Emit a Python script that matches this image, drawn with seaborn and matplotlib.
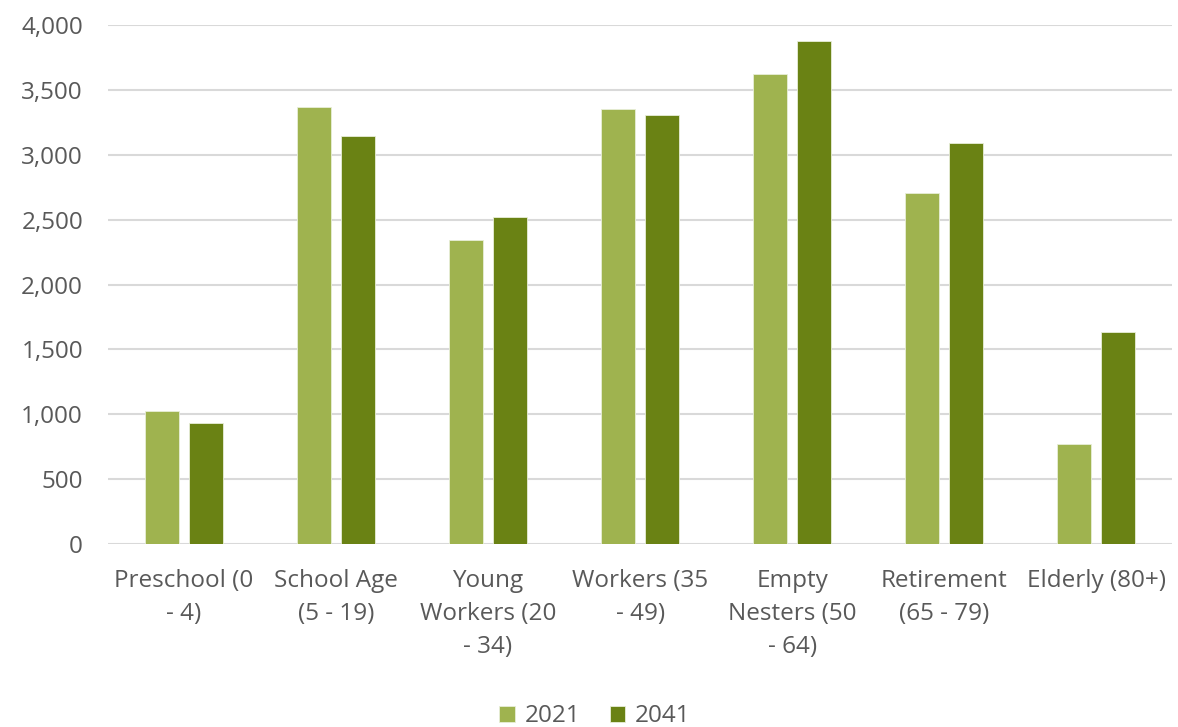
import matplotlib
matplotlib.use("Agg")
import matplotlib.pyplot as plt
import matplotlib.ticker as mticker
import seaborn as sns
import pandas as pd

categories = [
    "Preschool (0\n- 4)",
    "School Age\n(5 - 19)",
    "Young\nWorkers (20\n- 34)",
    "Workers (35\n- 49)",
    "Empty\nNesters (50\n- 64)",
    "Retirement\n(65 - 79)",
    "Elderly (80+)",
]
values_2021 = [1028, 3371, 2343, 3351, 3623, 2705, 772]
values_2041 = [936, 3144, 2520, 3310, 3874, 3090, 1634]
years = ["2021", "2041"]
colors = ["#9FB34F", "#6A8214"]

df = pd.DataFrame({
    "Age group": categories * 2,
    "Population": values_2021 + values_2041,
    "Year": [years[0]] * len(categories) + [years[1]] * len(categories),
})

sns.set_theme(style="white")
plt.rcParams["font.family"] = ["Open Sans", "DejaVu Sans"]

fig = plt.figure(figsize=(11.78, 7.27), dpi=100)
ax = fig.add_axes([0.0917, 0.2517, 0.9033, 0.7139])

sns.barplot(
    data=df, x="Age group", y="Population", hue="Year",
    palette=colors, saturation=1, width=0.58, gap=0.23, ax=ax,
    edgecolor="#E8EED8", linewidth=0.6,
)

ax.set_ylim(0, 4000)
ax.set_xlim(-0.5, len(categories) - 0.5)
ax.yaxis.set_major_locator(mticker.MultipleLocator(500))
ax.yaxis.set_major_formatter(mticker.StrMethodFormatter("{x:,.0f}"))
ax.grid(axis="y", color="#D9D9D9", linewidth=1.5)
ax.set_axisbelow(True)
for s in ax.spines.values():
    s.set_visible(False)

ax.set_xlabel("")
ax.set_ylabel("")
ax.tick_params(axis="both", length=0, labelsize=17.5, labelcolor="#595959")
ax.tick_params(axis="y", pad=18)
ax.tick_params(axis="x", pad=18)
for lbl in ax.get_xticklabels():
    lbl.set_linespacing(1.5)
    lbl.set_ha("center")

handles, labels = ax.get_legend_handles_labels()
ax.legend_.remove()
fig.legend(
    handles, labels, loc="lower center", bbox_to_anchor=(0.505, -0.032), ncol=2,
    frameon=False, fontsize=17.5, labelcolor="#595959",
    handlelength=0.65, handleheight=0.65, handletextpad=0.4, columnspacing=1.2,
)

fig.savefig("out.png", dpi=100, facecolor="white")
